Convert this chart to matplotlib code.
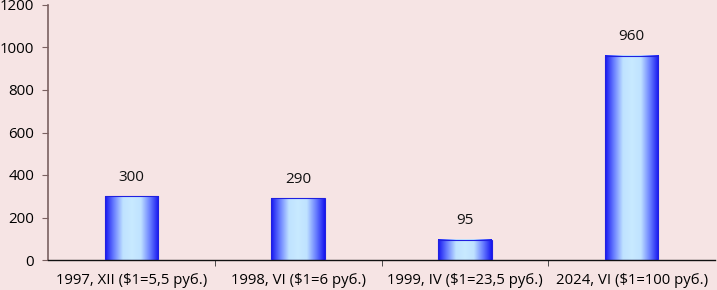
import numpy as np
import matplotlib
matplotlib.use("Agg")
import matplotlib.pyplot as plt
from matplotlib.colors import LinearSegmentedColormap

categories = ["1997, XII ($1=5,5 руб.)", "1998, VI ($1=6 руб.)",
              "1999, IV ($1=23,5 руб.)", "2024, VI ($1=100 руб.)"]
values = [300, 290, 95, 960]
yticks = [0, 200, 400, 600, 800, 1000, 1200]

plt.rcParams['font.family'] = ['Open Sans', 'DejaVu Sans']
bg = '#F6E4E4'
fig = plt.figure(figsize=(7.17, 2.90), dpi=100, facecolor=bg)
ax = fig.add_axes([48/717, 30/290, 667/717, 255/290])
ax.set_facecolor(bg)

x = np.arange(len(categories))
bars = ax.bar(x, values, width=0.32, color='none', edgecolor='#2020E0', linewidth=0.8, zorder=3)

cmap = LinearSegmentedColormap.from_list('g', ['#1515F0', '#6A80FF', '#BFE2FF', '#C8EAFF', '#BFE2FF', '#6A80FF', '#1515F0'])
grad = np.linspace(0, 1, 256).reshape(1, -1)
for b in bars:
    x0, y0, w, h = b.get_x(), b.get_y(), b.get_width(), b.get_height()
    ax.imshow(grad, cmap=cmap, aspect='auto', extent=[x0, x0 + w, y0, y0 + h], zorder=2, interpolation='bilinear')
    ax.text(x0 + w / 2, h + 55, f"{int(h)}", ha='center', va='bottom', fontsize=11, color='#111111')

ax.set_xlim(-0.5, len(categories) - 0.5)
ax.set_ylim(0, 1200)
ax.set_yticks(yticks)
ax.set_yticklabels([str(v) for v in yticks], fontsize=10.8)
ax.set_xticks(x)
ax.set_xticklabels(categories, fontsize=10.7)
ax.tick_params(axis='x', length=0, pad=9)
ax.set_xticks(np.arange(0.5, len(categories) - 0.5, 1), minor=True)
ax.tick_params(axis='x', which='minor', length=4, color='#333333', direction='out')
ax.tick_params(axis='y', length=4, color='#7A6060', pad=6)
for s in ['top', 'right']:
    ax.spines[s].set_visible(False)
ax.spines['left'].set_color('#7A6060')
ax.spines['left'].set_linewidth(1.2)
ax.spines['bottom'].set_color('#111111')
ax.spines['bottom'].set_linewidth(1.0)

fig.savefig('out.png', dpi=100, facecolor=bg)
